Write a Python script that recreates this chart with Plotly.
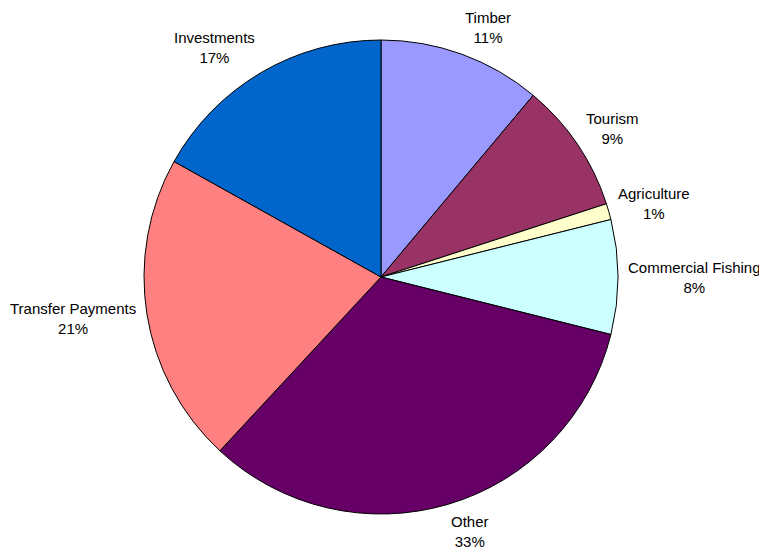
import math
import plotly.graph_objects as go

labels = ["Timber", "Tourism", "Agriculture", "Commercial Fishing", "Other", "Transfer Payments", "Investments"]
values = [11.1, 8.9, 1.1, 7.8, 33.0, 21.2, 16.9]
colors = ["#9999FF", "#993366", "#FFFFCC", "#CCFFFF", "#660066", "#FF8080", "#0066CC"]

PAGE_OFF = 8                # default body margin of the html page
W, H = 767 - PAGE_OFF, 552 - PAGE_OFF
CX, CY, R = 381 - PAGE_OFF, 277 - PAGE_OFF, 237   # pie centre/radius in figure pixels
GAP = 11                    # label distance from the pie edge
HALF_H = 18                 # half height of a two-line label block
FONT = dict(family="Liberation Sans, Arial, sans-serif", size=15, color="black")

fig = go.Figure(go.Pie(
    labels=labels,
    values=values,
    sort=False,
    direction="clockwise",
    rotation=0,
    marker=dict(colors=colors, line=dict(color="black", width=1)),
    textinfo="none",
    showlegend=False,
    hoverinfo="label+percent",
    domain=dict(x=[(CX - R) / W, (CX + R) / W], y=[(H - CY - R) / H, (H - CY + R) / H]),
))

# outside labels placed along each slice's bisector
total = sum(values)
cum = 0.0
annotations = []
for lab, v in zip(labels, values):
    mid = (cum + v / 2) / total * 2 * math.pi
    cum += v
    s, c = math.sin(mid), math.cos(mid)
    px = CX + (R + GAP) * s
    py = CY - (R + GAP) * c - c * HALF_H
    if s > 0.1:
        xa, xs = "left", -3
    elif s < -0.1:
        xa, xs = "right", 2
    else:
        xa, xs = "center", 0
    annotations.append(dict(
        x=px / W, y=1 - py / H, xref="paper", yref="paper",
        text=f"{lab}<br>{round(v / total * 100):d}%",
        showarrow=False, xanchor=xa, yanchor="middle", align="center",
        xshift=xs, font=FONT,
    ))

fig.update_layout(
    width=W, height=H,
    margin=dict(l=0, r=0, t=0, b=0),
    paper_bgcolor="white",
    plot_bgcolor="white",
    annotations=annotations,
)
fig.write_html("out.html")
